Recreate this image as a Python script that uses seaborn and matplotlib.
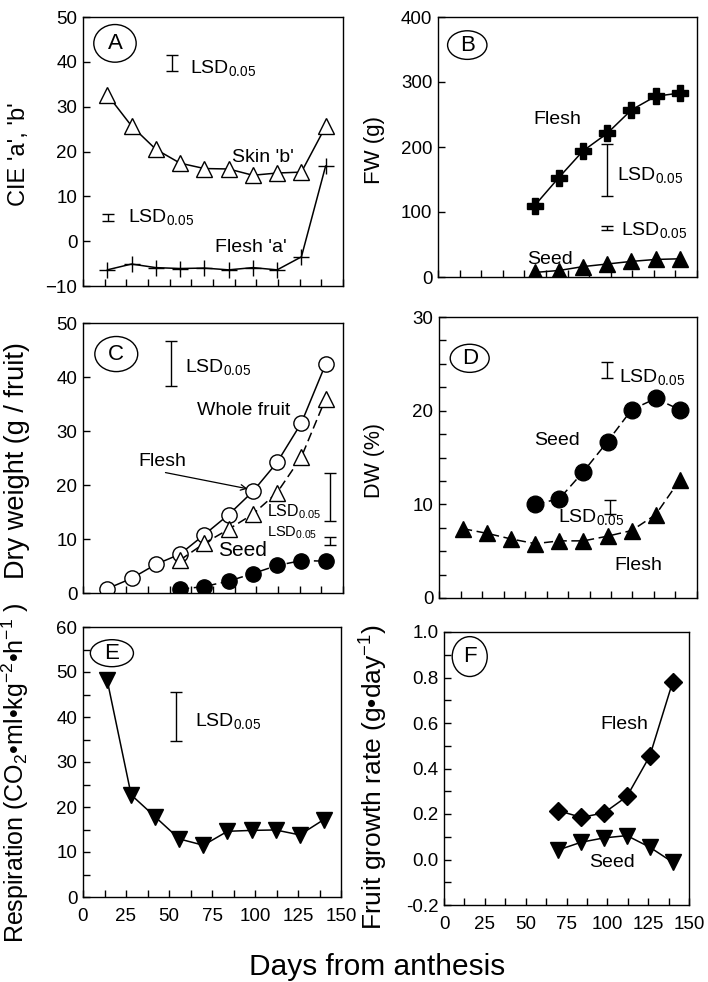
import numpy as np
import pandas as pd
import seaborn as sns
import matplotlib.pyplot as plt
from matplotlib.patches import Ellipse
from matplotlib.ticker import MultipleLocator, FormatStrFormatter

# ---- data ----
days_all = [14, 28, 42, 56, 70, 84, 98, 112, 126, 140]
days_late = [56, 70, 84, 98, 112, 126, 140]
days_rate = [70, 84, 98, 112, 126, 140]

# A: CIE colour
skin_b = [32.7, 25.7, 20.5, 17.4, 16.2, 16.1, 14.7, 15.2, 15.4, 25.6]
flesh_a = [-6.4, -5.1, -5.9, -6.1, -6.0, -6.4, -5.9, -6.4, -3.5, 16.8]

# B: fresh weight
fw_flesh = [110, 153, 194, 221, 257, 278, 283]
fw_seed = [7, 10, 16, 20, 24, 27, 28]

# C: dry weight
dw_whole = [0.8, 2.7, 5.3, 7.2, 10.8, 14.5, 18.8, 24.2, 31.5, 42.4]
dw_flesh = [6.1, 9.2, 11.8, 14.6, 18.6, 25.2, 36.0]
dw_seed = [0.7, 1.2, 2.2, 3.6, 5.1, 6.0, 5.9]

# D: dry matter %
pct_seed = [10.0, 10.6, 13.5, 16.7, 20.1, 21.3, 20.1]
pct_flesh = [7.4, 6.9, 6.3, 5.8, 6.1, 6.1, 6.6, 7.2, 8.9, 12.6]

# E: respiration
resp = [48.3, 22.7, 17.8, 12.9, 11.5, 14.6, 14.8, 14.9, 13.8, 17.2]

# F: growth rate
rate_flesh = [0.215, 0.185, 0.205, 0.277, 0.455, 0.78]
rate_seed = [0.042, 0.076, 0.095, 0.105, 0.054, -0.012]

# LSD bars: (x, low, high)
lsd_A = [(51.6, 38.0, 41.5), (14.6, 4.4, 6.1)]
lsd_B = [(98, 124.6, 204), (97.8, 72, 78)]
lsd_C = [(50.8, 38.3, 46.6), (142.7, 13.3, 22.3), (142.7, 8.8, 10.4)]
lsd_D = [(97.8, 23.5, 25.2), (99.5, 9.0, 10.5)]
lsd_E = [(54, 34.6, 45.5)]

sns.set_style('ticks')
plt.rcParams['font.family'] = ['Liberation Sans', 'DejaVu Sans']
plt.rcParams['mathtext.fontset'] = 'custom'
plt.rcParams['mathtext.rm'] = 'Liberation Sans'
plt.rcParams['mathtext.it'] = 'Liberation Sans'
plt.rcParams['mathtext.default'] = 'regular'
plt.rcParams['text.color'] = 'black'
plt.rcParams['axes.labelcolor'] = 'black'

W, H = 708, 982
fig = plt.figure(figsize=(W / 100, H / 100), dpi=100)


def make_ax(l, r, t, b):
    return fig.add_axes([l / W, 1 - b / H, (r - l) / W, (b - t) / H])


def series(ax, x, y, marker, ms, filled=True, ls='-'):
    sns.lineplot(x=x, y=y, ax=ax, color='black', linewidth=1.1, linestyle=ls,
                 marker=marker, markersize=ms,
                 markerfacecolor='black' if filled else 'white',
                 markeredgecolor='black', markeredgewidth=1.0,
                 estimator=None, errorbar=None)


def lsd(ax, bars):
    for x, lo, hi in bars:
        ax.errorbar([x], [(lo + hi) / 2], yerr=[(hi - lo) / 2], fmt='none',
                    ecolor='black', elinewidth=1.0, capsize=4, capthick=1.0)


def label(ax, x, y, s, size=14):
    ax.text(x, y, s, fontsize=size, ha='left', va='baseline')


def style(ax, ylim, ymaj, yminor=None, xlabels=False, fmt=None):
    ax.set_xlim(0, 150)
    ax.set_ylim(*ylim)
    ax.xaxis.set_major_locator(MultipleLocator(25))
    ax.xaxis.set_minor_locator(MultipleLocator(12.5))
    ax.yaxis.set_major_locator(MultipleLocator(ymaj))
    if yminor:
        ax.yaxis.set_minor_locator(MultipleLocator(yminor))
    else:
        ax.yaxis.set_minor_locator(plt.NullLocator())
    if fmt:
        ax.yaxis.set_major_formatter(FormatStrFormatter(fmt))
    ax.tick_params(which='both', direction='in', length=5, width=1,
                   top=False, right=False, labelsize=13.5,
                   color='black', labelcolor='black')
    ax.tick_params(axis='y', pad=4)
    ax.tick_params(axis='x', pad=8, labelbottom=xlabels)
    for sp in ax.spines.values():
        sp.set_linewidth(1.0)
        sp.set_color('black')
    ax.set_xlabel('')


def ylab(ax, text, size, xpos, ypos=0.49):
    ax.set_ylabel(text, fontsize=size)
    ax.yaxis.set_label_coords(xpos, ypos)


def tag(ax, letter, cx, cy, w, h):
    ax.add_patch(Ellipse((cx, cy), w, h, transform=ax.transAxes,
                         facecolor='white', edgecolor='black', lw=1.0,
                         zorder=5, clip_on=False))
    ax.text(cx, cy, letter, transform=ax.transAxes, ha='center',
            va='center', fontsize=16, zorder=6)


LSD = 'LSD$_{0.05}$'

# ---- A ----
axA = make_ax(83, 343, 17, 286)
series(axA, days_all, skin_b, '^', 12, filled=False)
series(axA, days_all, flesh_a, '+', 11)
lsd(axA, lsd_A)
label(axA, 61.7, 37.4, LSD)
label(axA, 26.1, 4.2, LSD)
label(axA, 85.8, 17.7, "Skin 'b'")
label(axA, 76.2, -2.5, "Flesh 'a'")
style(axA, (-10, 50), 10)
ylab(axA, "CIE 'a', 'b'", 17, -0.205)
tag(axA, 'A', 0.123, 0.902, 0.163, 0.14)

# ---- B ----
axB = make_ax(438, 697, 17, 277)
series(axB, days_late, fw_flesh, 'P', 11)
series(axB, days_late, fw_seed, '^', 11)
lsd(axB, lsd_B)
label(axB, 103.6, 149, LSD)
label(axB, 106, 64, LSD)
label(axB, 55.4, 236, 'Flesh')
label(axB, 51.5, 20.5, 'Seed')
style(axB, (0, 400), 100)
ylab(axB, 'FW (g)', 16, -0.205)
tag(axB, 'B', 0.113, 0.892, 0.152, 0.11)

# ---- C ----
axC = make_ax(83, 343, 323, 593)
series(axC, days_all, dw_whole, 'o', 11, filled=False)
series(axC, days_late, dw_flesh, '^', 11, filled=False, ls=(0, (6, 3)))
series(axC, days_late, dw_seed, 'o', 11, ls=(0, (6, 3)))
lsd(axC, lsd_C)
label(axC, 58.9, 41, LSD)
label(axC, 106, 14.2, LSD, size=11.5)
label(axC, 106, 10.4, LSD, size=10.5)
label(axC, 65.6, 33, 'Whole fruit')
label(axC, 31.9, 23.5, 'Flesh')
label(axC, 78, 6.8, 'Seed', size=15)
axC.annotate('', xy=(96.5, 19.2), xytext=(46, 22.4),
             arrowprops=dict(arrowstyle='->', lw=0.9, color='black'))
style(axC, (0, 50), 10)
ylab(axC, 'Dry weight (g / fruit)', 19.5, -0.205)
tag(axC, 'C', 0.128, 0.885, 0.165, 0.13)

# ---- D ----
axD = make_ax(439, 697, 317, 598)
series(axD, days_late, pct_seed, 'o', 12, ls=(0, (6, 3)))
series(axD, days_all, pct_flesh, '^', 11, ls=(0, (6, 3)))
lsd(axD, lsd_D)
label(axD, 104.7, 23.1, LSD)
label(axD, 69.2, 8.1, LSD)
label(axD, 55.2, 16.3, 'Seed')
label(axD, 101.7, 2.95, 'Flesh')
style(axD, (0, 30), 10, 2.5)
ylab(axD, 'DW (%)', 15.5, -0.21)
tag(axD, 'D', 0.119, 0.853, 0.151, 0.1)

# ---- E ----
axE = make_ax(83, 341, 627, 897)
series(axE, days_all, resp, 'v', 12)
lsd(axE, lsd_E)
label(axE, 65.3, 37.9, LSD)
style(axE, (0, 60), 10, 5, xlabels=True)
ylab(axE, 'Respiration (CO$_2$•ml•kg$^{-2}$•h$^{-1}$ )', 18, -0.2, 0.46)
tag(axE, 'E', 0.112, 0.903, 0.167, 0.1)

# ---- F ----
axF = make_ax(444, 689, 632, 905)
series(axF, days_rate, rate_flesh, 'D', 9)
series(axF, days_rate, rate_seed, 'v', 11)
label(axF, 95.9, 0.572, 'Flesh')
label(axF, 88.8, -0.034, 'Seed')
style(axF, (-0.2, 1.0), 0.2, 0.1, xlabels=True, fmt='%.1f')
ylab(axF, 'Fruit growth rate (g•day$^{-1}$)', 19, -0.22, 0.47)
tag(axF, 'F', 0.105, 0.91, 0.143, 0.146)

fig.text(377 / W, 1 - 975 / H, 'Days from anthesis', fontsize=21.5,
         ha='center', va='baseline')

fig.savefig('out.png', dpi=100)
